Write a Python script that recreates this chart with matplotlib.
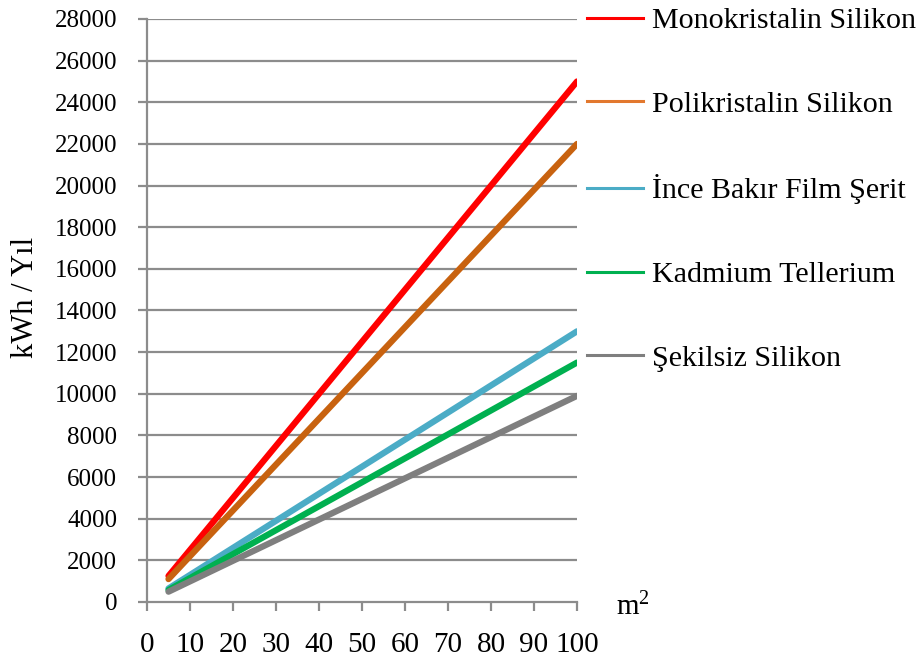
import matplotlib
matplotlib.use("Agg")
import matplotlib.pyplot as plt
from matplotlib.lines import Line2D

# Data
series_names = ["Monokristalin Silikon", "Polikristalin Silikon", "İnce Bakır Film Şerit",
                "Kadmium Tellerium", "Şekilsiz Silikon"]
area_m2 = [5, 100]
mono = [1250, 25000]
poli = [1100, 22000]
ince = [650, 13000]
kadmium = [575, 11500]
sekilsiz = [495, 9900]
x_ticks = [0, 10, 20, 30, 40, 50, 60, 70, 80, 90, 100]
y_ticks = list(range(0, 28001, 2000))

line_colors = ["#ff0000", "#c8620f", "#4bacc6", "#00b050", "#7f7f7f"]
legend_colors = ["#ff0000", "#e2782e", "#4bacc6", "#00b050", "#7f7f7f"]

plt.rcParams['font.family'] = ['Liberation Serif', 'DejaVu Serif']
plt.rcParams['mathtext.fontset'] = 'custom'
plt.rcParams['mathtext.rm'] = 'Liberation Serif'
plt.rcParams['mathtext.it'] = 'Liberation Serif'

W, H = 921, 659
fig = plt.figure(figsize=(W / 100, H / 100), dpi=100)
left_px, right_px, top_px, bottom_px = 147, 577, 19, 602
ax = fig.add_axes([left_px / W, 1 - bottom_px / H, (right_px - left_px) / W, (bottom_px - top_px) / H])

grid_c = "#8c8c8c"
for yv in y_ticks[1:]:
    ax.axhline(yv, color=grid_c, lw=1.6, zorder=1)

all_series = [mono, poli, ince, kadmium, sekilsiz]
for vals, c in zip(all_series, line_colors):
    ax.plot(area_m2, vals, color=c, lw=4.5, solid_capstyle='round', zorder=3)

ax.set_xlim(0, 100)
ax.set_ylim(0, 28000)
ax.set_xticks(x_ticks)
ax.set_xticklabels([str(v) for v in x_ticks])
ax.set_yticks(y_ticks)
ax.set_yticklabels([str(v) for v in y_ticks])

for s in ["top", "right"]:
    ax.spines[s].set_visible(False)
for s in ["left", "bottom"]:
    ax.spines[s].set_color(grid_c)
    ax.spines[s].set_linewidth(1.6)
ax.tick_params(axis='both', colors=grid_c, width=1.6, length=6.5, labelcolor='black')
ax.tick_params(axis='x', pad=15, labelsize=21)
ax.tick_params(axis='y', pad=15, labelsize=18)

ax.set_ylabel("kWh / Yıl", fontsize=22)
ax.yaxis.set_label_coords(-(147 - 40) / (right_px - left_px), (602 - 297) / (602 - 19))

# legend
handles = [Line2D([0], [0], color=c, lw=2.2) for c in legend_colors]
fig.legend(handles, series_names, loc='upper left',
           bbox_to_anchor=(587 / W, 1 - 7 / H), frameon=False, fontsize=21.6,
           handlelength=1.85, handletextpad=0.33, labelspacing=1.89, borderpad=0.0,
           borderaxespad=0.0)

fig.text(616 / W, 1 - 615 / H, r"m$^2$", fontsize=21, va='baseline', ha='left')

fig.savefig("out.png", dpi=100, facecolor='white')
